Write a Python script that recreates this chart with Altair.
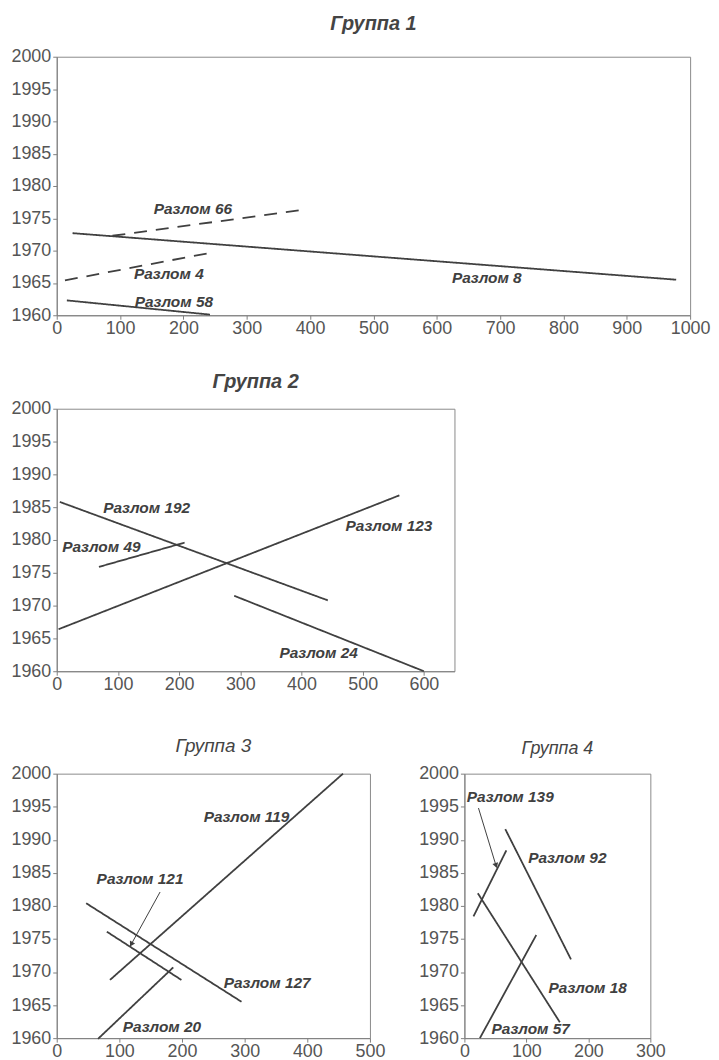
import altair as alt
import pandas as pd
import numpy as np

FONT = "Liberation Sans"
INK = "#404040"

# ---------------- Group 1 ----------------
g1_names = ["Разлом 8", "Разлом 66", "Разлом 4", "Разлом 58"]
g1_x1 = [25, 88, 13, 16]
g1_y1 = [1972.7, 1972.3, 1965.4, 1962.3]
g1_x2 = [978, 396, 250, 242]
g1_y2 = [1965.5, 1976.4, 1969.8, 1960.1]
g1_dashed = [False, True, True, False]
g1_lx = [679, 215, 177, 185]
g1_ly = [1965.7, 1976.5, 1966.4, 1962.0]
g1_xticks = [0, 100, 200, 300, 400, 500, 600, 700, 800, 900, 1000]

# ---------------- Group 2 ----------------
g2_names = ["Разлом 192", "Разлом 49", "Разлом 123", "Разлом 24"]
g2_x1 = [5, 69, 3, 290]
g2_y1 = [1985.8, 1975.9, 1966.4, 1971.5]
g2_x2 = [443, 209, 560, 600]
g2_y2 = [1970.8, 1979.6, 1986.8, 1960.0]
g2_dashed = [False, False, False, False]
g2_lx = [147, 73, 543, 428]
g2_ly = [1984.9, 1978.9, 1982.1, 1962.7]
g2_xticks = [0, 100, 200, 300, 400, 500, 600]

# ---------------- Group 3 ----------------
g3_names = ["Разлом 119", "Разлом 127", "Разлом 121", "Разлом 20"]
g3_x1 = [85, 47, 80, 66]
g3_y1 = [1968.8, 1980.4, 1976.1, 1959.9]
g3_x2 = [457, 295, 199, 186]
g3_y2 = [2000.0, 1965.5, 1968.8, 1970.7]
g3_dashed = [False, False, False, False]
g3_lx = [303, 336, 133, 168]
g3_ly = [1993.5, 1968.4, 1984.1, 1961.7]
g3_arrow = [165, 1982.1, 119, 1974.2]
g3_xticks = [0, 100, 200, 300, 400, 500]

# ---------------- Group 4 ----------------
g4_names = ["Разлом 139", "Разлом 92", "Разлом 18", "Разлом 57"]
g4_x1 = [14.6, 66, 21.7, 25]
g4_y1 = [1978.4, 1991.6, 1981.9, 1960.0]
g4_x2 = [67.7, 172, 154, 116]
g4_y2 = [1988.4, 1971.9, 1962.4, 1975.6]
g4_dashed = [False, False, False, False]
g4_lx = [74, 166, 199, 107]
g4_ly = [1996.4, 1987.2, 1967.6, 1961.4]
g4_arrow = [22.7, 1994.8, 51, 1986.1]
g4_xticks = [0, 100, 200, 300]

YTICKS = list(range(1960, 2001, 5))


def panel(title, names, x1, y1, x2, y2, dashed, lx, ly, xmax, xticks,
          width, height, tsize, tweight, toffset, arrow=None):
    lines = pd.DataFrame({"name": names, "x1": x1, "y1": y1,
                          "x2": x2, "y2": y2, "dashed": dashed})
    labels = pd.DataFrame({"name": names, "lx": lx, "ly": ly})
    xs = alt.Scale(domain=[0, xmax], nice=False, zero=False)
    ys = alt.Scale(domain=[1960, 2000], nice=False, zero=False)
    xax = alt.Axis(values=xticks, labelFlush=False, format="d", labelOverlap=False)
    yax = alt.Axis(values=YTICKS, format="d", labelOverlap=False)

    def X(f):
        return alt.X(f"{f}:Q", scale=xs, axis=xax, title=None)

    def Y(f):
        return alt.Y(f"{f}:Q", scale=ys, axis=yax, title=None)

    seg = alt.Chart(lines).mark_rule(color=INK, strokeWidth=1.8).encode(
        x=X("x1"), y=Y("y1"), x2="x2:Q", y2="y2:Q",
        strokeDash=alt.condition("datum.dashed", alt.value([13, 9]), alt.value([1, 0])),
    )
    txt = alt.Chart(labels).mark_text(
        font=FONT, fontSize=15.5, fontStyle="italic", fontWeight="bold",
        color=INK, align="center", baseline="middle",
    ).encode(x=X("lx"), y=Y("ly"), text="name:N")
    layers = [seg, txt]
    if arrow is not None:
        adf = pd.DataFrame({"ax1": [arrow[0]], "ay1": [arrow[1]],
                            "ax2": [arrow[2]], "ay2": [arrow[3]]})
        dx = (arrow[2] - arrow[0]) * width / xmax
        dy = -(arrow[3] - arrow[1]) * height / 40.0
        ang = float(np.degrees(np.arctan2(dx, -dy))) % 360
        shaft = alt.Chart(adf).mark_rule(color=INK, strokeWidth=1).encode(
            x=X("ax1"), y=Y("ay1"), x2="ax2:Q", y2="ay2:Q")
        head = alt.Chart(adf).mark_point(
            shape="triangle-up", filled=True, size=35, angle=ang,
            color=INK, opacity=1).encode(x=X("ax2"), y=Y("ay2"))
        layers += [shaft, head]
    return alt.layer(*layers).properties(
        width=width, height=height,
        title=alt.TitleParams(title, fontSize=tsize, fontWeight=tweight, offset=toffset),
    )


g1 = panel("Группа 1", g1_names, g1_x1, g1_y1, g1_x2, g1_y2, g1_dashed,
           g1_lx, g1_ly, 1000, g1_xticks, 637, 260, 20, "bold", 14)
g2 = panel("Группа 2", g2_names, g2_x1, g2_y1, g2_x2, g2_y2, g2_dashed,
           g2_lx, g2_ly, 650, g2_xticks, 400, 264, 20, "bold", 8)
g3 = panel("Группа 3", g3_names, g3_x1, g3_y1, g3_x2, g3_y2, g3_dashed,
           g3_lx, g3_ly, 500, g3_xticks, 315, 266, 19, "normal", 9, arrow=g3_arrow)
g4 = panel("Группа 4", g4_names, g4_x1, g4_y1, g4_x2, g4_y2, g4_dashed,
           g4_lx, g4_ly, 300, g4_xticks, 187, 266, 18, "normal", 7, arrow=g4_arrow)

top = alt.vconcat(g1, g2, spacing=33)
bottom = alt.hconcat(g3, g4, spacing=32)

chart = alt.vconcat(top, bottom, spacing=42).properties(
    padding={"left": 2, "right": 0, "top": 2, "bottom": 0}
).configure_axis(
    labelFont=FONT, labelFontSize=18, labelColor="#555555",
    domainColor="#808080", tickColor="#808080", tickSize=4,
    labelPadding=2, grid=False,
).configure_axisX(
    labelPadding=0,
).configure_view(
    stroke="#8a8a8a", strokeWidth=1,
).configure_title(
    font=FONT, fontStyle="italic", color="#444444", anchor="middle",
    frame="group",
)

chart.save("out.html", embed_options={"renderer": "svg", "actions": False})
